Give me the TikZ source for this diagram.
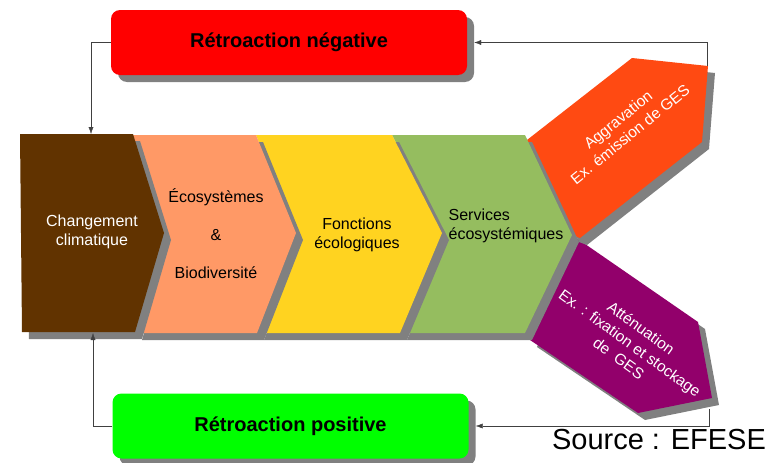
\documentclass[tikz,border=0pt]{standalone}
\usepackage{fontspec}
\setmainfont{Liberation Sans}
\usetikzlibrary{arrows.meta,shadows}
\definecolor{shadowgray}{HTML}{808080}
\definecolor{brownc}{HTML}{613300}
\definecolor{salmonc}{HTML}{FF9966}
\definecolor{yellowc}{HTML}{FFD320}
\definecolor{greenc}{HTML}{95BD5F}
\definecolor{orangec}{HTML}{FF4A12}
\definecolor{purplec}{HTML}{92006B}
\tikzset{
  retro/.style={rounded corners=9pt, minimum width=356pt, minimum height=65pt,
    font=\fontsize{20}{24}\selectfont\bfseries,
    drop shadow={fill=shadowgray, opacity=1, shadow xshift=7pt, shadow yshift=-7pt}},
  shade/.style={fill=shadowgray, shift={(7,7)}},
  chevtext/.style={font=\fontsize{16}{19}\selectfont, align=center},
  sidetext/.style={font=\fontsize{15.5}{19}\selectfont, align=center, text=white, inner sep=1pt},
  link/.style={draw=black!75, -{Latex[length=7pt,width=5pt]}}
}
\begin{document}
\begin{tikzpicture}[x=1pt, y=-1pt]
\useasboundingbox (0,0) rectangle (780,463);
% arrows leaving the chain, right to left
\fill[shade] (572,235) -- (698,322) -- (712,398) -- (638,413) -- (530,340) -- cycle;
\fill[purplec] (572,235) -- (698,322) -- (712,398) -- (638,413) -- (530,340) -- cycle;
\fill[shade] (527,140) -- (632,58) -- (708,66) -- (702,142) -- (580,238) -- (572,235) -- cycle;
\fill[orangec] (527,140) -- (632,58) -- (708,66) -- (702,142) -- (580,238) -- (572,235) -- cycle;
% the chain
\fill[shade] (392,135) -- (525,135) -- (572,235) -- (525,333) -- (400,333) -- (442,233) -- cycle;
\fill[greenc] (392,135) -- (525,135) -- (572,235) -- (525,333) -- (400,333) -- (442,233) -- cycle;
\fill[shade] (256,135) -- (392,135) -- (442,233) -- (400,333) -- (257,333) -- (296,233) -- cycle;
\fill[yellowc] (256,135) -- (392,135) -- (442,233) -- (400,333) -- (257,333) -- (296,233) -- cycle;
\fill[shade] (133,135) -- (256,135) -- (296,233) -- (257,333) -- (135,333) -- (164,233) -- cycle;
\fill[salmonc] (133,135) -- (256,135) -- (296,233) -- (257,333) -- (135,333) -- (164,233) -- cycle;
\fill[shade] (20,134) -- (133,134) -- (164,233) -- (135,332) -- (22,332) -- cycle;
\fill[brownc] (20,134) -- (133,134) -- (164,233) -- (135,332) -- (22,332) -- cycle;
% texts
\node[chevtext, text=white] (cc) at (92,232) {Changement\\climatique};
\node[chevtext, font=\fontsize{16}{38}\selectfont] (eco) at (216,234) {Écosystèmes\\\&\\Biodiversité};
\node[chevtext] (fonc) at (357,235) {Fonctions\\écologiques};
\node[chevtext, align=left] (serv) at (506,226) {Services\\écosystémiques};
\node[sidetext, rotate=39] (aggr) at (624,127) {Aggravation\\Ex. émission de GES};
\node[sidetext, rotate=-36] (attn) at (630,343) {Atténuation\\Ex. : fixation et stockage\\de~~GES};
% feedback boxes
\node[retro, fill=red] (neg) at (289,42.5) {Rétroaction négative};
\node[retro, fill=green] (pos) at (290.5,426) {Rétroaction positive};
\coordinate (cctop) at (91,134);
\coordinate (ccbot) at (93,333);
\coordinate (aggout) at (707,66);
\coordinate (attout) at (709,409);
\draw[link] (neg.west) -| (cctop);
\draw[link] (aggout) |- ([xshift=7pt]neg.east);
\draw[link] (pos.west) -| (ccbot);
\draw[link] (attout) |- ([xshift=7pt]pos.east);
\node[font=\fontsize{29}{34}\selectfont] (src) at (659,440) {Source : EFESE};
\end{tikzpicture}
\end{document}
